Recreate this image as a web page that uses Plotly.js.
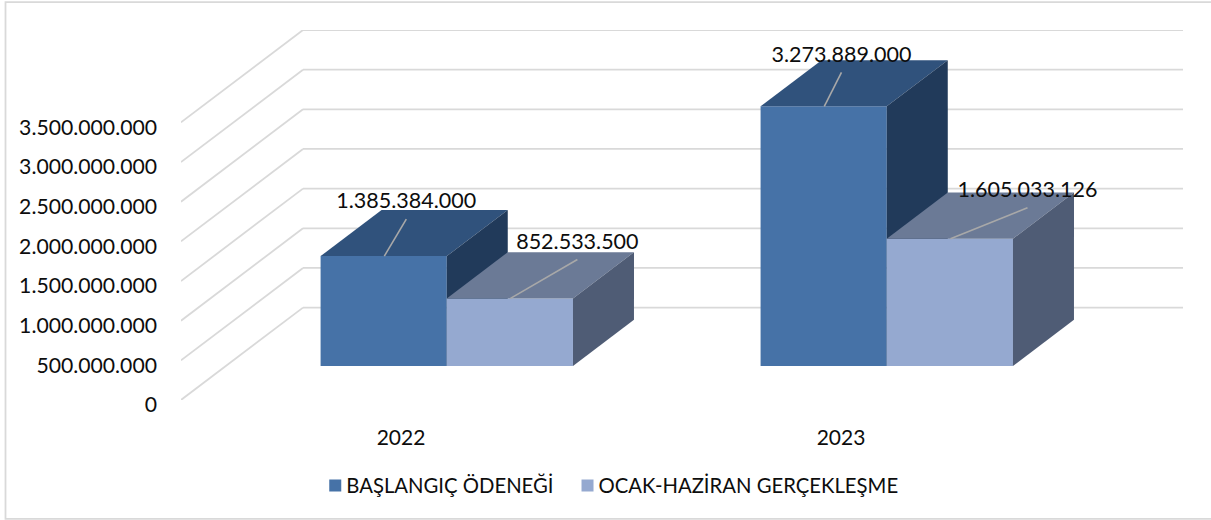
<!DOCTYPE html>
<html>
<head>
<meta charset="utf-8">
<script src="https://cdn.plot.ly/plotly-3.0.1.min.js"></script>
<style>html,body{margin:0;padding:0;background:#fff}#chart{width:1211px;height:520px}</style>
</head>
<body>
<div id="chart"></div>
<script>
var categories = ['2022', '2023'];
var seriesNames = ['BAŞLANGIÇ ÖDENEĞİ', 'OCAK-HAZİRAN GERÇEKLEŞME'];
var baslangic = [1385384000, 3273889000];
var gerceklesme = [852533500, 1605033126];
var yTicks = [0, 500000000, 1000000000, 1500000000, 2000000000, 2500000000, 3000000000, 3500000000];

// Oblique projection: depth moves a point right (category units) and up (value units)
var depthX = 0.2773, depthY = 1165000000;
var barStart = 0.368, barDepth = 0.5, barWidth = 0.2868, barNudge = 0.002;
var FONT = 'Lato, Carlito, Calibri, sans-serif';
var INK = '#0d0d0d';

function fmt(v) { return String(v).replace(/\B(?=(\d{3})+(?!\d))/g, '.'); }
function px(c, d) { return c + d * depthX; }
function py(v, d) { return v + d * depthY; }

var xPos = categories.map(function (_, i) { return i; });

function face(pts, color, overlay) {
  return {type: 'scatter', mode: 'lines', x: pts.map(function (p) { return p[0]; }), y: pts.map(function (p) { return p[1]; }),
    fill: 'toself', fillcolor: color, line: {width: 0, color: color}, showlegend: false, hoverinfo: 'skip',
    xaxis: overlay ? 'x2' : 'x', yaxis: overlay ? 'y2' : 'y'};
}

function seriesTraces(values, name, sign, colors, overlay) {
  var out = [];
  out.push({type: 'bar', name: name, x: xPos.map(function (c) { return px(c, barStart) + barNudge + sign * barWidth / 2; }),
    y: values, base: values.map(function () { return py(0, barStart); }), width: barWidth,
    marker: {color: colors[0], line: {width: 0}}, hoverinfo: 'skip',
    xaxis: overlay ? 'x2' : 'x', yaxis: overlay ? 'y2' : 'y'});
  values.forEach(function (v, i) {
    var l = px(i, barStart) + barNudge + (sign < 0 ? -barWidth : 0), r = l + barWidth;
    var d0 = barStart, d1 = barStart + barDepth;
    out.push(face([[l, py(v, d0)], [r, py(v, d0)], [r + barDepth * depthX, py(v, d1)], [l + barDepth * depthX, py(v, d1)], [l, py(v, d0)]], colors[1], overlay));
    out.push(face([[r, py(v, d0)], [r + barDepth * depthX, py(v, d1)], [r + barDepth * depthX, py(0, d1)], [r, py(0, d0)], [r, py(v, d0)]], colors[2], overlay));
  });
  return out;
}

var traces = []
  .concat(seriesTraces(baslangic, seriesNames[0], -1, ['#4672a7', '#30527c', '#213a5a'], false))
  .concat(seriesTraces(gerceklesme, seriesNames[1], 1, ['#95a9d0', '#6b7a96', '#4f5c75'], true));

// Leader lines and data labels
var labelDefs = [
  {v: baslangic[0], i: 0, s: -1, fx: 0.505, tx: 0.05, ty: 466000000, lift: 205000000},
  {v: gerceklesme[0], i: 0, s: 1, fx: 0.505, tx: 0.152, ty: 490000000, lift: 197000000},
  {v: baslangic[1], i: 1, s: -1, fx: 0.505, tx: 0.039, ty: 428000000, lift: 197000000},
  {v: gerceklesme[1], i: 1, s: 1, fx: 0.505, tx: 0.175, ty: 390000000, lift: 202000000}
];
labelDefs.forEach(function (l) {
  var left = px(l.i, barStart) + barNudge + (l.s < 0 ? -barWidth : 0);
  var x0 = left + l.fx * barWidth, y0 = py(l.v, barStart);
  var x1 = x0 + l.tx, y1 = y0 + l.ty;
  traces.push({type: 'scatter', mode: 'lines', x: [x0, x1], y: [y0, y1], line: {color: '#a8a8a8', width: 1.6},
    showlegend: false, hoverinfo: 'skip', xaxis: 'x2', yaxis: 'y2'});
  traces.push({type: 'scatter', mode: 'text', x: [x1], y: [y1 + l.lift], text: [fmt(l.v)], textposition: 'middle center',
    textfont: {family: FONT, size: 21.5, color: INK}, showlegend: false, hoverinfo: 'skip', xaxis: 'x2', yaxis: 'y2', cliponaxis: false});
});

// Walls: gridlines run along the side wall, then along the back wall
var GRID = {color: '#d9d9d9', width: 1.8};
var shapes = [];
yTicks.forEach(function (t) {
  shapes.push({type: 'line', layer: 'below', xref: 'x', yref: 'y', x0: -0.5, y0: t, x1: px(-0.5, 1), y1: py(t, 1), line: GRID});
  shapes.push({type: 'line', layer: 'below', xref: 'x', yref: 'y', x0: px(-0.5, 1), y0: py(t, 1), x1: px(1.5, 1), y1: py(t, 1), line: GRID});
});
// Chart frame (its right edge falls outside the picture)
var W = 1211, H = 520, L = 181, R = 28, T = 29.5, B = 120;
var pw = W - L - R, ph = H - T - B;
shapes.push({type: 'rect', layer: 'below', xref: 'paper', yref: 'paper',
  x0: (5.5 - L) / pw, x1: (1218 - L) / pw, y0: (B - (H - 519)) / ph * -1, y1: (H - B - 1.5) / ph,
  line: {color: '#d9d9d9', width: 1.8}, fillcolor: 'rgba(0,0,0,0)'});

var xr = [-0.5, px(1.5, 1)], yr = [0, py(yTicks[yTicks.length - 1], 1)];
var layout = {
  width: W, height: H, margin: {l: L, r: R, t: T, b: B},
  paper_bgcolor: '#fff', plot_bgcolor: 'rgba(0,0,0,0)',
  barmode: 'overlay', showlegend: true,
  xaxis: {range: xr, tickmode: 'array', tickvals: xPos, ticktext: categories, showgrid: false, zeroline: false, showline: false,
    ticks: '', ticklabelstandoff: 23, tickfont: {family: FONT, size: 21, color: INK}, fixedrange: true},
  yaxis: {range: yr, tickmode: 'array', tickvals: yTicks, ticktext: yTicks.map(fmt), showgrid: false, zeroline: false, showline: false,
    ticks: '', ticklabelstandoff: 23, ticklabelshift: 5, tickfont: {family: FONT, size: 21.2, color: INK}, fixedrange: true},
  xaxis2: {range: xr, overlaying: 'x', visible: false, fixedrange: true},
  yaxis2: {range: yr, overlaying: 'y', visible: false, fixedrange: true},
  legend: {orientation: 'h', x: 0.125, xanchor: 'left', y: -0.178, yanchor: 'top', font: {family: FONT, size: 20.3, color: INK},
    bgcolor: 'rgba(0,0,0,0)', itemclick: false, itemdoubleclick: false, traceorder: 'normal'},
  shapes: shapes
};
Plotly.newPlot('chart', traces, layout, {displayModeBar: false, staticPlot: true}).then(function () {
  // Bring the legend swatches closer to their text
  document.querySelectorAll('.legend .legendsymbols').forEach(function (g) {
    g.setAttribute('transform', ((g.getAttribute('transform') || '') + ' translate(9,0)').trim());
  });
});
</script>
</body>
</html>
